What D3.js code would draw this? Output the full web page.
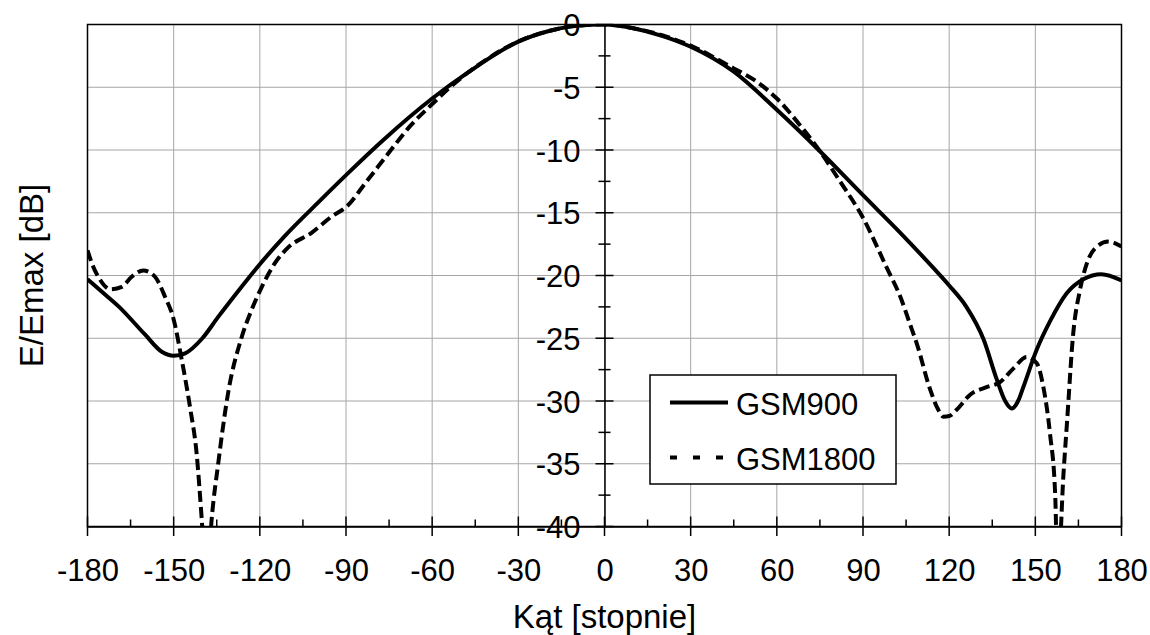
<!DOCTYPE html>
<html>
<head>
<meta charset="utf-8">
<script src="https://cdn.jsdelivr.net/npm/d3@7"></script>
<style>
  body { margin: 0; background: #fff; }
  text { font-family: Arial, "Liberation Sans", sans-serif; fill: #000; }
</style>
</head>
<body>
<div id="chart"></div>
<script>
// Chart Dimensions
const width = 1150;
const height = 635;
const margin = { top: 24.5, right: 28.5, bottom: 108.5, left: 87.5 };
const plotW = width - margin.left - margin.right;
const plotH = height - margin.top - margin.bottom;

// Data (angle in degrees, E/Emax in dB)
const angles900 = [-180, -175, -169, -160, -154, -150, -146, -140, -134.5, -128.6, -120, -111.5, -100, -90, -77, -60, -48, -30, -19, -12, -5, 0,
  10, 20, 30, 45, 60, 75, 90, 103, 114.5, 120, 126, 132, 136.6, 139.5, 141.8, 144, 145.8, 150.5, 155, 161, 166.7, 173, 180];
const gsm900 = [-20.3, -21.3, -22.5, -24.7, -26.1, -26.4, -26.2, -25.0, -23.3, -21.55, -19.1, -16.9, -14.25, -12.0, -9.2, -5.9, -3.9, -1.37, -0.5, -0.17, -0.02, 0,
  -0.3, -0.9, -1.77, -3.76, -6.8, -10.1, -13.6, -16.6, -19.4, -20.8, -22.5, -25.1, -28.3, -30.0, -30.6, -30.0, -28.9, -25.9, -23.7, -21.4, -20.3, -19.9, -20.4];

const angles1800 = [-180, -178, -176, -172, -168, -164.6, -160.6, -156.5, -153, -150, -147.2, -144.3, -142, -140.2, -138.5, -136.8, -134.5, -131, -126.3, -122.8,
  -119.3, -114.7, -110.3, -102, -95, -89.75, -82.8, -74.7, -67.7, -59.8, -53.8, -42.2, -30, -19, -10, 0,
  10, 20, 30, 45, 52, 60, 68, 75, 82, 90, 98.3, 103, 106.4, 108.7, 113.4, 116, 118, 120, 122.6, 127.3, 133, 137.7, 142.4, 147, 150.5,
  152.8, 155.1, 156.9, 157.8, 159.8, 161, 163.2, 165.5, 168, 171.4, 175.4, 180];
const gsm1800 = [-18.0, -19.3, -20.2, -21.1, -20.9, -20.1, -19.6, -20.1, -21.7, -23.5, -26.7, -30.5, -34.2, -39.5, -45, -39.5, -35.0, -29.3, -24.9, -22.7,
  -20.9, -19.0, -17.8, -16.6, -15.3, -14.5, -12.5, -10.1, -8.1, -6.3, -5.0, -2.96, -1.35, -0.5, -0.1, 0,
  -0.3, -0.85, -1.69, -3.5, -4.4, -5.9, -8.0, -10.1, -12.5, -15.4, -19.4, -21.7, -23.9, -25.4, -29.1, -30.6, -31.25, -31.2, -30.7, -29.5, -28.9, -28.5, -27.4, -26.5, -27.0,
  -28.9, -32.6, -37.4, -44, -35.8, -31.8, -24.6, -21.2, -19.0, -17.7, -17.3, -17.7];

const xTicks = d3.range(-180, 181, 30);
const yTicks = d3.range(-40, 1, 5);
const seriesNames = ["GSM900", "GSM1800"];

// Create SVG Container
const svg = d3.select("#chart")
  .append("svg")
  .attr("width", width)
  .attr("height", height);

const g = svg.append("g")
  .attr("transform", `translate(${margin.left}, ${margin.top})`);

// Scales
const x = d3.scaleLinear().domain([-180, 180]).range([0, plotW]);
const y = d3.scaleLinear().domain([-40, 0]).range([plotH, 0]);

// Grid lines
g.append("g")
  .selectAll("line")
  .data(yTicks)
  .join("line")
  .attr("x1", 0).attr("x2", plotW)
  .attr("y1", d => y(d)).attr("y2", d => y(d))
  .attr("stroke", "#a6a6a6").attr("stroke-width", 1);

g.append("g")
  .selectAll("line")
  .data(xTicks)
  .join("line")
  .attr("x1", d => x(d)).attr("x2", d => x(d))
  .attr("y1", 0).attr("y2", plotH)
  .attr("stroke", "#a6a6a6").attr("stroke-width", 1);

// Plot border
g.append("rect")
  .attr("width", plotW).attr("height", plotH)
  .attr("fill", "none").attr("stroke", "#000").attr("stroke-width", 1.5);

// plain hyphen for negatives, like the original
const fmt = d => String(d);

// X axis at the bottom (-40 dB)
const xAxis = d3.axisBottom(x).tickValues(xTicks).tickSize(0).tickPadding(0).tickFormat(fmt);
const gx = g.append("g").attr("transform", `translate(0, ${plotH})`).call(xAxis);
gx.select(".domain").attr("stroke", "#000").attr("stroke-width", 1.5);
gx.selectAll("text").attr("y", 54).attr("dy", 0).style("font-size", "31px");

// major x ticks cross the axis, minor ticks point inside
g.append("g")
  .selectAll("line")
  .data(xTicks)
  .join("line")
  .attr("x1", d => x(d)).attr("x2", d => x(d))
  .attr("y1", plotH - 10).attr("y2", plotH + 9.5)
  .attr("stroke", "#000").attr("stroke-width", 1.5);

g.append("g")
  .selectAll("line")
  .data(d3.range(-165, 180, 30))
  .join("line")
  .attr("x1", d => x(d)).attr("x2", d => x(d))
  .attr("y1", plotH - 7).attr("y2", plotH)
  .attr("stroke", "#000").attr("stroke-width", 1.5);

// Y axis drawn at 0 degrees
const yAxis = d3.axisLeft(y).tickValues(yTicks).tickSize(0).tickPadding(0).tickFormat(fmt);
const gy = g.append("g").attr("transform", `translate(${x(0)}, 0)`).call(yAxis);
gy.select(".domain").attr("stroke", "#000").attr("stroke-width", 1.5);
gy.selectAll("text").attr("x", -24).attr("dy", "0.36em").style("font-size", "31px");

g.append("g")
  .selectAll("line")
  .data(yTicks)
  .join("line")
  .attr("x1", x(0) - 9).attr("x2", x(0) + 9)
  .attr("y1", d => y(d)).attr("y2", d => y(d))
  .attr("stroke", "#000").attr("stroke-width", 1.5);

g.append("g")
  .selectAll("line")
  .data(d3.range(-37.5, 0, 5))
  .join("line")
  .attr("x1", x(0) - 6).attr("x2", x(0) + 6)
  .attr("y1", d => y(d)).attr("y2", d => y(d))
  .attr("stroke", "#000").attr("stroke-width", 1.5);

// Clip curves to the plot area
svg.append("defs").append("clipPath").attr("id", "plot-clip")
  .append("rect").attr("width", plotW).attr("height", plotH);

const line = d3.line()
  .x(d => x(d[0]))
  .y(d => y(d[1]))
  .curve(d3.curveMonotoneX);

const curves = g.append("g").attr("clip-path", "url(#plot-clip)");

curves.append("path")
  .datum(d3.zip(angles1800, gsm1800))
  .attr("d", line)
  .attr("fill", "none").attr("stroke", "#000").attr("stroke-width", 4)
  .attr("stroke-dasharray", "11,5");

curves.append("path")
  .datum(d3.zip(angles900, gsm900))
  .attr("d", line)
  .attr("fill", "none").attr("stroke", "#000").attr("stroke-width", 4);

// Axis titles
svg.append("text")
  .attr("x", margin.left + plotW / 2).attr("y", 628)
  .attr("text-anchor", "middle")
  .style("font-size", "33px")
  .text("Kąt [stopnie]");

svg.append("text")
  .attr("transform", `translate(43, ${margin.top + plotH / 2}) rotate(-90)`)
  .attr("text-anchor", "middle")
  .style("font-size", "33px")
  .text("E/Emax [dB]");

// Legend
const legend = svg.append("g").attr("transform", "translate(650, 375)");
legend.append("rect")
  .attr("width", 246).attr("height", 109)
  .attr("fill", "#fff").attr("stroke", "#000").attr("stroke-width", 1.5);

const legendRows = legend.selectAll(".row")
  .data(seriesNames)
  .join("g")
  .attr("class", "row")
  .attr("transform", (d, i) => `translate(0, ${27.5 + i * 55})`);

legendRows.append("line")
  .attr("x1", 20).attr("x2", 78)
  .attr("stroke", "#000").attr("stroke-width", 4)
  .attr("stroke-dasharray", (d, i) => i === 0 ? null : "7,16");

legendRows.append("text")
  .attr("x", 86).attr("y", 12.5)
  .style("font-size", "31px")
  .text(d => d);
</script>
</body>
</html>
